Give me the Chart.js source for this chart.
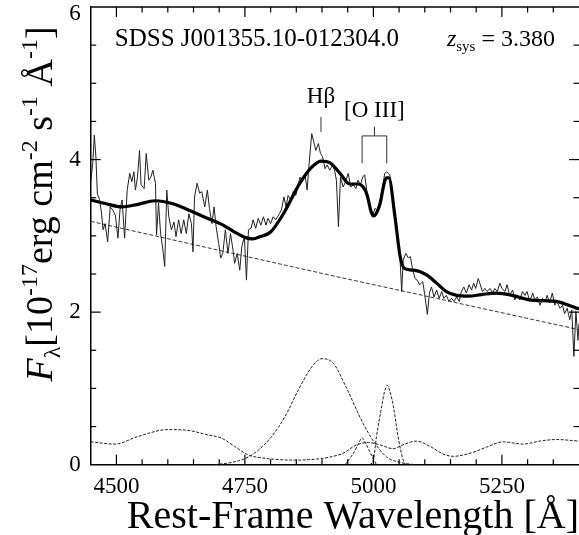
<!DOCTYPE html>
<html><head><meta charset="utf-8">
<script src="https://cdn.jsdelivr.net/npm/chart.js@4.4.0/dist/chart.umd.min.js"></script>
<style>html,body{margin:0;padding:0;background:#fff;overflow:hidden}#wrap{width:579px;height:535px;overflow:hidden}canvas{display:block}</style>
</head><body><div id="wrap"><canvas id="c" width="580" height="535" style="width:580px;height:535px"></canvas></div>
<script>
// ---- observed spectrum (rest-frame wavelength, flux) ----
const specWave = [4450,4454,4457,4460,4463,4467,4471,4474,4478,4483,4488,4493,4498,4503,4507,4511,4516,4521,4526,4530,4534,4537,4541,4545,4548,4554,4558,4563,4567,4571,4576,4578,4582,4586,4590,4594,4598,4602,4607,4612,4616,4621,4626,4631,4636,4641,4646,4649,4652,4657,4662,4666,4672,4677,4681,4686,4690,4694,4699,4703,4707,4712,4717,4722,4727,4730,4735,4740,4744,4749,4753,4757,4762,4766,4771,4776,4781,4786,4791,4795,4800,4805,4810,4817,4821,4826,4830,4834,4839,4844,4849,4854,4857,4862,4867,4871,4875,4880,4884,4888,4893,4897,4901,4906,4910,4915,4921,4925,4928,4932,4936,4941,4946,4951,4956,4961,4966,4970,4975,4979,4983,4987,4991,4995,4998,5003,5007,5013,5018,5022,5026,5029,5032,5038,5045,5051,5055,5058,5063,5068,5072,5076,5081,5085,5090,5096,5100,5105,5109,5113,5118,5123,5128,5133,5137,5142,5147,5152,5157,5162,5167,5171,5176,5181,5186,5191,5195,5199,5204,5208,5212,5217,5221,5227,5232,5236,5241,5246,5250,5256,5260,5265,5271,5275,5280,5285,5290,5295,5299,5304,5310,5314,5319,5324,5329,5334,5338,5343,5348,5353,5357,5363,5368,5372,5377,5382,5386,5390,5394,5398,5400];
const specFlux = [3.70,3.95,4.32,4.05,3.55,3.48,3.30,3.08,3.16,2.92,3.38,3.34,3.27,2.97,3.34,3.47,2.97,3.60,3.82,3.71,3.84,3.60,3.77,4.12,3.67,3.62,4.08,3.73,3.77,3.86,3.69,3.01,3.43,3.03,2.84,2.60,3.60,3.25,3.08,3.18,2.99,3.21,3.03,3.21,3.03,3.29,3.16,2.79,3.51,3.69,3.56,3.58,3.38,3.60,3.36,3.16,3.38,3.12,2.90,2.71,2.77,3.08,2.77,3.03,2.81,2.64,2.77,2.55,2.86,2.99,2.42,3.08,3.10,3.21,3.10,3.23,3.14,3.25,3.14,3.23,3.16,3.25,3.21,3.29,3.34,3.51,3.38,3.53,3.47,3.58,3.53,3.67,3.77,3.71,3.80,3.60,3.95,4.34,4.23,4.12,4.21,4.08,4.04,3.88,3.93,3.86,3.93,3.84,3.73,3.12,3.77,3.64,3.71,3.82,3.64,3.67,3.62,3.73,3.67,3.77,3.80,3.60,3.47,3.34,3.25,3.36,3.34,3.47,3.64,3.82,3.84,3.82,3.80,3.47,3.08,2.81,2.27,2.68,2.77,2.71,2.73,2.57,2.44,2.42,2.36,2.40,2.22,1.97,2.25,2.33,2.20,2.29,2.18,2.27,2.18,2.22,2.14,2.18,2.14,2.20,2.14,2.27,2.33,2.25,2.36,2.29,2.38,2.31,2.44,2.36,2.27,2.31,2.27,2.31,2.25,2.31,2.27,2.38,2.31,2.27,2.36,2.22,2.29,2.16,2.22,2.16,2.27,2.22,2.27,2.14,2.25,2.16,2.20,2.09,2.18,2.14,2.22,2.12,2.25,2.09,2.14,2.05,2.09,1.98,2.05,1.90,2.03,1.42,2.01,1.63,1.85];

// ---- total model fit ----
const modelWave = [4450,4480,4510,4540,4575,4610,4640,4670,4705,4730,4750,4765,4780,4800,4825,4857,4880,4898,4915,4935,4954,4970,4980,4988,4995,5000,5006,5013,5020,5025,5030,5042,5052,5061,5078,5103,5123,5142,5162,5185,5210,5240,5270,5304,5330,5356,5380,5400];
const modelFlux = [3.47,3.42,3.38,3.41,3.46,3.42,3.34,3.25,3.15,3.05,2.98,2.96,2.99,3.05,3.29,3.69,3.90,3.98,3.96,3.82,3.68,3.68,3.64,3.53,3.33,3.26,3.30,3.42,3.66,3.76,3.76,3.25,2.73,2.57,2.55,2.49,2.38,2.27,2.22,2.21,2.23,2.25,2.22,2.16,2.15,2.14,2.09,2.04];

// ---- power-law continuum ----
const contWave = [4450,4700,4925,5055,5400];
const contFlux = [3.19,2.81,2.47,2.28,1.77];

// ---- broad H-beta component ----
const hbWave = [4692,4724,4750,4776,4802,4828,4854,4880,4900,4922,4948,4980,5003,5026,5052,5080];
const hbFlux = [0.00,0.03,0.08,0.19,0.37,0.63,0.98,1.28,1.39,1.33,1.00,0.54,0.28,0.10,0.03,0.00];

// ---- [O III] 4959 ----
const o3aWave = [4945,4961,4970,4978,4985,4993,5006];
const o3aFlux = [0.00,0.15,0.26,0.35,0.28,0.17,0.00];

// ---- [O III] 5007 ----
const o3bWave = [4993,5000,5006,5016,5021,5027,5033,5039,5048,5058,5063];
const o3bFlux = [0.00,0.06,0.37,0.76,0.94,1.04,0.94,0.76,0.37,0.06,0.00];

// ---- Fe II template ----
const feWave = [4450,4497,4542,4600,4639,4678,4704,4730,4756,4795,4847,4898,4915,4941,4967,4990,5013,5038,5061,5084,5110,5136,5155,5188,5220,5252,5291,5324,5356,5400];
const feFlux = [0.30,0.27,0.37,0.46,0.45,0.39,0.35,0.24,0.13,0.08,0.06,0.08,0.10,0.15,0.26,0.29,0.26,0.21,0.27,0.31,0.24,0.14,0.11,0.15,0.23,0.30,0.27,0.31,0.33,0.31];

// ---- ticks ----
const xTickLabels = [4500,4750,5000,5250];
const xMinorTicks = [4500,4550,4600,4650,4700,4750,4800,4850,4900,4950,5000,5050,5100,5150,5200,5250,5300,5350];
const yTickLabels = [0,2,4,6];
const yMinorTicks = [0.5,1,1.5,2,2.5,3,3.5,4,4.5,5,5.5];

// ---- annotations ----
const objectName = 'SDSS J001355.10-012304.0';
const redshiftText = '3.380';
const hbLabel = 'Hβ';
const hbMarkWave = 4898;
const o3Label = '[O III]';
const o3MarkWaves = [4978, 5026];

const FONT = "'Liberation Serif','Times New Roman',serif";
const pts = (w, f) => w.map((x, i) => ({x: x, y: f[i]}));

const decor = {
  id: 'decor',
  afterDraw(chart) {
    const {ctx, chartArea: a, scales: {x, y}} = chart;
    ctx.save();
    ctx.strokeStyle = '#000';
    ctx.fillStyle = '#000';
    // top frame
    ctx.lineWidth = 1.5;
    ctx.beginPath(); ctx.moveTo(a.left, a.top); ctx.lineTo(a.right, a.top); ctx.stroke();
    // inward ticks
    ctx.lineWidth = 1.2;
    const seg = (x1, y1, x2, y2) => { ctx.beginPath(); ctx.moveTo(x1, y1); ctx.lineTo(x2, y2); ctx.stroke(); };
    xMinorTicks.forEach(v => {
      const len = xTickLabels.includes(v) ? 10 : 5.5;
      const px = x.getPixelForValue(v);
      seg(px, a.bottom, px, a.bottom - len);
      seg(px, a.top, px, a.top + len);
    });
    yMinorTicks.forEach(v => {
      const len = yTickLabels.includes(v) ? 10 : 5.5;
      const py = y.getPixelForValue(v);
      seg(a.left, py, a.left + len, py);
      seg(a.right, py, a.right - len, py);
    });
    // top y tick label, kept inside the picture
    ctx.textAlign = 'right';
    ctx.textBaseline = 'middle';
    ctx.font = '23px ' + FONT;
    ctx.fillText(String(yTickLabels[yTickLabels.length - 1]), a.left - 10, y.getPixelForValue(6) + 7);
    // object name
    ctx.textBaseline = 'alphabetic';
    ctx.textAlign = 'left';
    ctx.font = '25px ' + FONT;
    ctx.fillText(objectName, x.getPixelForValue(4497), y.getPixelForValue(5.49));
    // z_sys = 3.380
    let zx = x.getPixelForValue(5143), zy = y.getPixelForValue(5.49);
    ctx.font = 'italic 24px ' + FONT;
    ctx.fillText('z', zx, zy); zx += ctx.measureText('z').width;
    ctx.font = '15px ' + FONT;
    ctx.fillText('sys', zx, zy + 5); zx += ctx.measureText('sys').width;
    ctx.font = '24px ' + FONT;
    ctx.fillText(' = ' + redshiftText, zx, zy);
    // H-beta
    ctx.textAlign = 'center';
    ctx.font = '23px ' + FONT;
    const hx = x.getPixelForValue(hbMarkWave);
    ctx.fillText(hbLabel, hx, y.getPixelForValue(4.74));
    ctx.lineWidth = 1;
    ctx.strokeStyle = '#333';
    seg(hx, y.getPixelForValue(4.56), hx, y.getPixelForValue(4.36));
    // [O III]
    const ox1 = x.getPixelForValue(o3MarkWaves[0]), ox2 = x.getPixelForValue(o3MarkWaves[1]);
    const oc = (ox1 + ox2) / 2;
    ctx.fillText(o3Label, oc, y.getPixelForValue(4.56));
    const yb = y.getPixelForValue(4.31);
    seg(oc, y.getPixelForValue(4.43), oc, yb);
    seg(ox1, yb, ox2, yb);
    seg(ox1, yb, ox1, y.getPixelForValue(3.95));
    seg(ox2, yb, ox2, y.getPixelForValue(3.95));
    // y-axis title with sub/superscripts
    const pieces = [
      {t: 'F', f: 'italic 38px ' + FONT, d: 0},
      {t: 'λ', f: '24px ' + FONT, d: 8},
      {t: '[10', f: '38px ' + FONT, d: 0},
      {t: '-17', f: '24px ' + FONT, d: -15},
      {t: 'erg cm', f: '38px ' + FONT, d: 0},
      {t: '-2', f: '24px ' + FONT, d: -15},
      {t: ' s', f: '38px ' + FONT, d: 0},
      {t: '-1', f: '24px ' + FONT, d: -15},
      {t: ' Å', f: '38px ' + FONT, d: 0},
      {t: '-1', f: '24px ' + FONT, d: -15},
      {t: ']', f: '38px ' + FONT, d: 0}
    ];
    let total = 0;
    pieces.forEach(p => { ctx.font = p.f; p.w = ctx.measureText(p.t).width; total += p.w; });
    ctx.translate(52, 204);
    ctx.rotate(-Math.PI / 2);
    ctx.textAlign = 'left';
    ctx.fillStyle = '#000';
    let cx = -total / 2;
    pieces.forEach(p => { ctx.font = p.f; ctx.fillText(p.t, cx, p.d); cx += p.w; });
    ctx.restore();
  }
};

const thin = {borderColor: '#222', borderWidth: 1, pointRadius: 0, tension: 0, fill: false};
const comp = {borderColor: '#222', borderWidth: 1, pointRadius: 0, fill: false, borderDash: [3, 1.5], cubicInterpolationMode: 'monotone'};
new Chart(document.getElementById('c').getContext('2d'), {
  type: 'line',
  data: {
    datasets: [
      {label: 'Model', data: pts(modelWave, modelFlux), borderColor: '#000', borderWidth: 3.2, pointRadius: 0, cubicInterpolationMode: 'monotone', order: 0},
      Object.assign({label: 'Spectrum', data: pts(specWave, specFlux), order: 1}, thin),
      Object.assign({label: 'Continuum', data: pts(contWave, contFlux), order: 2}, thin, {borderWidth: 0.9, borderDash: [4, 2]}),
      Object.assign({label: 'Hβ broad', data: pts(hbWave, hbFlux), order: 3}, comp),
      Object.assign({label: '[O III] 4959', data: pts(o3aWave, o3aFlux), order: 4}, comp),
      Object.assign({label: '[O III] 5007', data: pts(o3bWave, o3bFlux), order: 5}, comp),
      Object.assign({label: 'Fe II', data: pts(feWave, feFlux), order: 6}, comp)
    ]
  },
  options: {
    responsive: false, animation: false, devicePixelRatio: 1,
    layout: {padding: {top: 7, right: 1, left: 0, bottom: 0}},
    plugins: {legend: {display: false}, tooltip: {enabled: false}},
    scales: {
      x: {
        type: 'linear', min: 4450, max: 5400,
        afterBuildTicks: s => { s.ticks = xTickLabels.map(v => ({value: v})); },
        afterFit: s => { s.height = 70.3; s.paddingLeft = 0; s.paddingRight = 0; },
        grid: {display: false, drawTicks: false},
        border: {display: true, color: '#000', width: 1.5},
        ticks: {font: {family: FONT, size: 23}, color: '#000', padding: 8, maxRotation: 0, autoSkip: false, callback: v => String(v)},
        title: {display: true, text: 'Rest-Frame Wavelength [Å]', align: 'end', color: '#000', font: {family: FONT, size: 40, lineHeight: 0.9}, padding: {top: 0, bottom: 0}}
      },
      y: {
        min: 0, max: 6,
        afterBuildTicks: s => { s.ticks = yTickLabels.map(v => ({value: v})); },
        afterFit: s => { s.width = 90.7; s.paddingTop = 0; s.paddingBottom = 0; },
        grid: {display: false, drawTicks: false},
        border: {display: true, color: '#000', width: 1.5},
        ticks: {font: {family: FONT, size: 23}, color: '#000', padding: 10, autoSkip: false, callback: v => (v === yTickLabels[yTickLabels.length - 1] ? '' : String(v))}
      }
    }
  },
  plugins: [decor]
});
</script></body></html>
